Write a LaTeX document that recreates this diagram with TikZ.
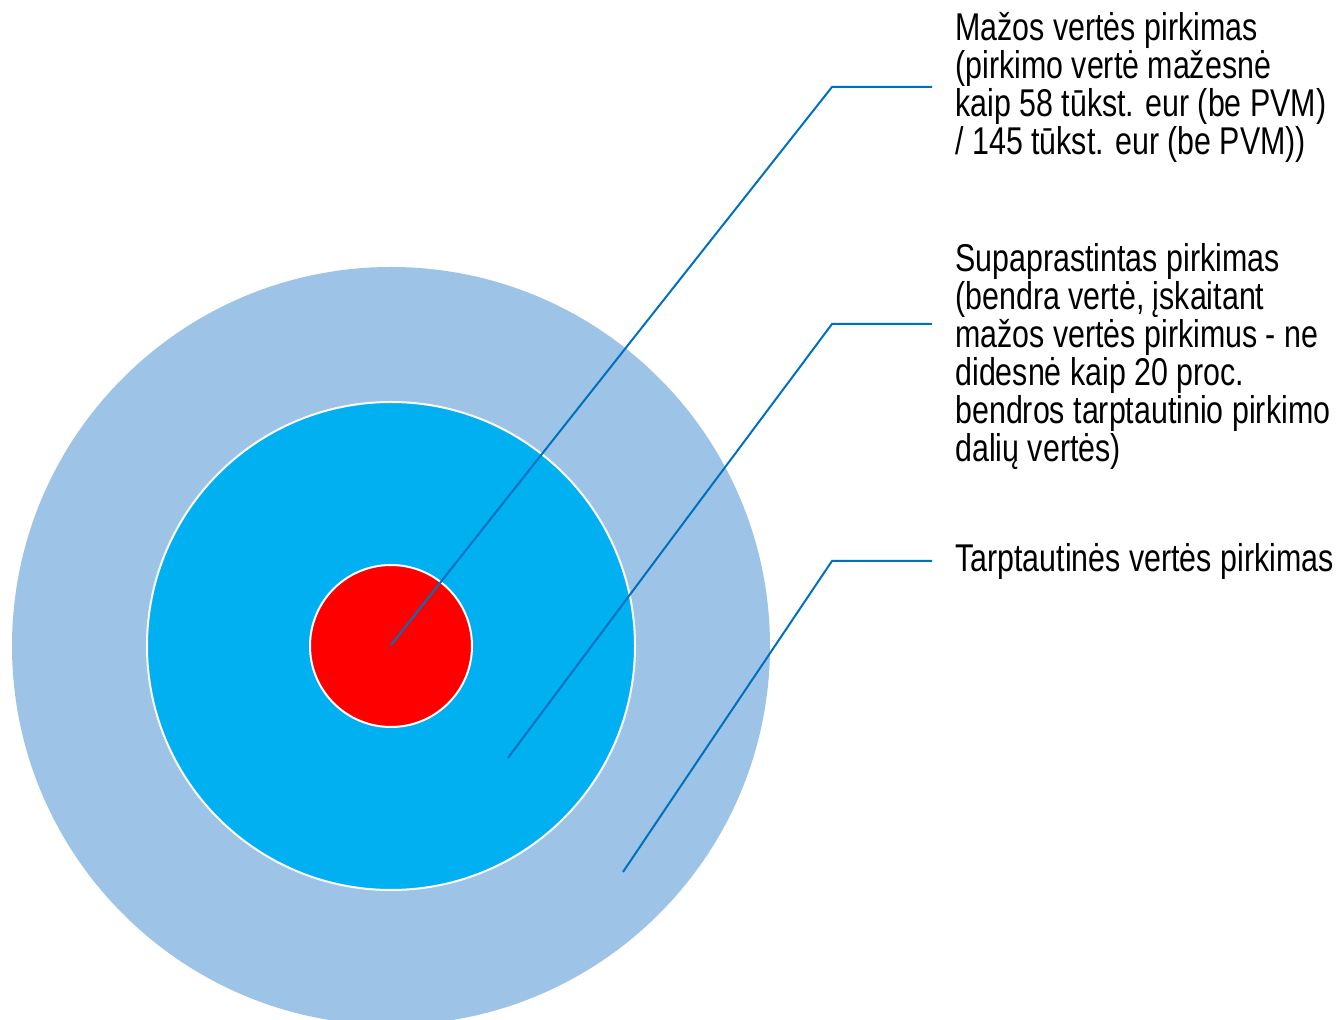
\documentclass[tikz,border=0pt]{standalone}
\usepackage{fontspec}
\setmainfont{Liberation Sans}
\newfontfamily\labelfont[FakeStretch=0.785]{Liberation Sans}
\usepackage{xcolor}
\usetikzlibrary{positioning, calc}
\definecolor{outerblue}{HTML}{9DC3E6}
\definecolor{midblue}{HTML}{00B0F0}
\definecolor{leaderblue}{HTML}{0070C0}
\tikzset{every picture/.style={font issue=\labelfont\fontsize{19.35}{19}},
         font issue/.style={execute at begin picture={#1\selectfont}},
         ring/.style={draw=white, line width=1pt},
         leader/.style={draw=leaderblue, line width=1pt},
         label text/.style={align=left, inner sep=0pt, anchor=base west}
        }
\begin{document}
\begin{tikzpicture}[x=0.5pt, y=-0.5pt]
\useasboundingbox (0,0) rectangle (1340,1020);
\clip (0,0) rectangle (1340,1020);
\coordinate (centre) at (391,646);

% circles
\fill[outerblue] (centre) circle (379);
\filldraw[ring, fill=midblue] (centre) circle (244);
\filldraw[ring, fill=red] (centre) circle (81);

% labels (placed at the baseline of their last line)
\node[label text] (small_value) at (955,155) {Mažos vertės pirkimas\\(pirkimo vertė mažesnė\\kaip 58 tūkst. eur (be PVM)\\/ 145 tūkst. eur (be PVM))};
\node[label text] (simplified) at (955,462) {Supaprastintas pirkimas\\(bendra vertė, įskaitant\\mažos vertės pirkimus - ne\\didesnė kaip 20 proc.\\bendros tarptautinio pirkimo\\dalių vertės)};
\node[label text] (international) at (955,572) {Tarptautinės vertės pirkimas};

% leader lines
\coordinate (small_tip) at (391,645);
\coordinate (simplified_tip) at (508,758);
\coordinate (international_tip) at (623,872);
\coordinate (small_end) at (932,87);
\coordinate (simplified_end) at (932,324);
\coordinate (international_end) at (932,561);

\draw[leader](small_tip) -- (832,87) -- (small_end);
\draw[leader](simplified_tip) -- (832,324) -- (simplified_end);
\draw[leader](international_tip) -- (832,561) -- (international_end);

\end{tikzpicture}
\end{document}
